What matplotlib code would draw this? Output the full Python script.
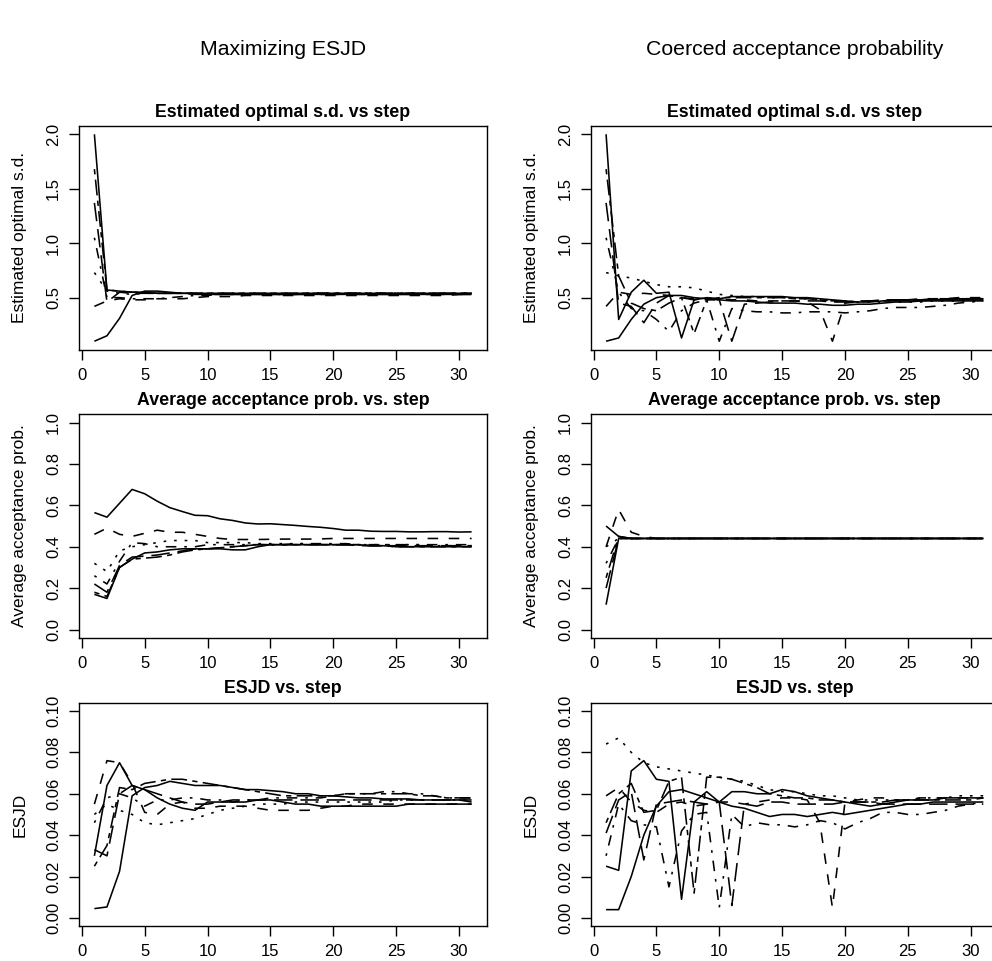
import matplotlib
matplotlib.use("Agg")
import matplotlib.pyplot as plt

plt.rcParams['font.family'] = ['Liberation Sans', 'DejaVu Sans']
plt.rcParams['lines.scale_dashes'] = False

steps = list(range(1, 32))

# --- Maximizing ESJD (left column) ---
sd_esjd = [
    [0.10, 0.15, 0.31, 0.52, 0.56, 0.56, 0.55, 0.54, 0.54, 0.53, 0.53, 0.53, 0.53, 0.53, 0.53, 0.53,
     0.53, 0.53, 0.53, 0.53, 0.53, 0.53, 0.53, 0.53, 0.53, 0.53, 0.53, 0.53, 0.53, 0.53, 0.53],
    [0.42, 0.47, 0.49, 0.48, 0.48, 0.49, 0.49, 0.49, 0.50, 0.51, 0.51, 0.51, 0.52, 0.52, 0.52, 0.52,
     0.52, 0.52, 0.52, 0.52, 0.52, 0.52, 0.52, 0.52, 0.52, 0.52, 0.52, 0.52, 0.52, 0.53, 0.53],
    [0.73, 0.56, 0.54, 0.53, 0.54, 0.54, 0.54, 0.54, 0.54, 0.54, 0.54, 0.54, 0.54, 0.54, 0.54, 0.54,
     0.54, 0.54, 0.54, 0.54, 0.54, 0.54, 0.54, 0.54, 0.54, 0.54, 0.54, 0.54, 0.54, 0.54, 0.54],
    [1.05, 0.50, 0.50, 0.49, 0.49, 0.49, 0.50, 0.51, 0.52, 0.52, 0.53, 0.53, 0.53, 0.53, 0.53, 0.53,
     0.53, 0.54, 0.54, 0.54, 0.54, 0.54, 0.54, 0.54, 0.54, 0.54, 0.54, 0.54, 0.54, 0.54, 0.54],
    [1.37, 0.46, 0.55, 0.54, 0.54, 0.54, 0.54, 0.54, 0.53, 0.53, 0.53, 0.53, 0.53, 0.53, 0.53, 0.53,
     0.53, 0.53, 0.53, 0.53, 0.53, 0.53, 0.53, 0.53, 0.53, 0.53, 0.53, 0.53, 0.53, 0.53, 0.53],
    [1.68, 0.57, 0.56, 0.55, 0.55, 0.54, 0.54, 0.54, 0.54, 0.54, 0.54, 0.54, 0.54, 0.54, 0.54, 0.54,
     0.54, 0.54, 0.54, 0.54, 0.54, 0.54, 0.54, 0.54, 0.54, 0.54, 0.54, 0.54, 0.54, 0.54, 0.54],
    [2.00, 0.57, 0.56, 0.55, 0.55, 0.54, 0.54, 0.54, 0.54, 0.54, 0.54, 0.54, 0.54, 0.54, 0.54, 0.54,
     0.54, 0.54, 0.54, 0.54, 0.54, 0.54, 0.54, 0.54, 0.54, 0.54, 0.54, 0.54, 0.54, 0.54, 0.54],
]
acc_esjd = [
    [0.565, 0.543, 0.61, 0.677, 0.656, 0.62, 0.589, 0.57, 0.552, 0.55, 0.535, 0.527, 0.515, 0.51, 0.511, 0.507,
     0.503, 0.498, 0.494, 0.488, 0.48, 0.48, 0.475, 0.474, 0.474, 0.472, 0.472, 0.473, 0.473, 0.471, 0.472],
    [0.46, 0.49, 0.46, 0.45, 0.465, 0.48, 0.47, 0.47, 0.46, 0.45, 0.44, 0.435, 0.435, 0.435, 0.436, 0.437,
     0.437, 0.437, 0.438, 0.44, 0.44, 0.44, 0.44, 0.44, 0.44, 0.44, 0.44, 0.44, 0.44, 0.44, 0.44],
    [0.32, 0.28, 0.38, 0.40, 0.41, 0.42, 0.43, 0.43, 0.43, 0.42, 0.42, 0.42, 0.42, 0.415, 0.415, 0.415,
     0.415, 0.415, 0.41, 0.41, 0.41, 0.41, 0.41, 0.41, 0.41, 0.41, 0.41, 0.405, 0.405, 0.405, 0.405],
    [0.26, 0.22, 0.33, 0.42, 0.415, 0.40, 0.40, 0.40, 0.40, 0.41, 0.41, 0.41, 0.41, 0.41, 0.41, 0.41,
     0.415, 0.415, 0.415, 0.415, 0.415, 0.41, 0.41, 0.41, 0.41, 0.41, 0.41, 0.41, 0.41, 0.41, 0.41],
    [0.22, 0.18, 0.31, 0.35, 0.355, 0.36, 0.37, 0.38, 0.39, 0.39, 0.395, 0.40, 0.405, 0.41, 0.41, 0.41,
     0.41, 0.41, 0.41, 0.41, 0.41, 0.405, 0.405, 0.405, 0.405, 0.405, 0.405, 0.405, 0.405, 0.405, 0.405],
    [0.18, 0.16, 0.30, 0.34, 0.345, 0.35, 0.36, 0.375, 0.385, 0.39, 0.395, 0.40, 0.405, 0.41, 0.41, 0.41,
     0.41, 0.41, 0.41, 0.41, 0.41, 0.41, 0.405, 0.405, 0.40, 0.40, 0.40, 0.40, 0.40, 0.40, 0.40],
    [0.17, 0.15, 0.30, 0.34, 0.37, 0.375, 0.385, 0.39, 0.39, 0.39, 0.39, 0.385, 0.385, 0.40, 0.41, 0.41,
     0.41, 0.41, 0.41, 0.41, 0.41, 0.41, 0.405, 0.405, 0.40, 0.40, 0.40, 0.40, 0.40, 0.40, 0.40],
]
esjd_esjd = [
    [0.0045, 0.0053, 0.0225, 0.059, 0.063, 0.064, 0.066, 0.065, 0.064, 0.064, 0.064, 0.063, 0.062, 0.062, 0.0615, 0.061,
     0.060, 0.060, 0.059, 0.059, 0.0585, 0.058, 0.058, 0.0575, 0.0575, 0.0575, 0.057, 0.057, 0.057, 0.057, 0.057],
    [0.055, 0.076, 0.075, 0.065, 0.051, 0.050, 0.055, 0.056, 0.053, 0.053, 0.054, 0.054, 0.054, 0.053, 0.052, 0.052,
     0.052, 0.052, 0.053, 0.054, 0.054, 0.055, 0.055, 0.055, 0.055, 0.055, 0.055, 0.055, 0.055, 0.055, 0.055],
    [0.050, 0.055, 0.052, 0.050, 0.046, 0.045, 0.046, 0.047, 0.048, 0.050, 0.052, 0.053, 0.054, 0.055, 0.055, 0.055,
     0.056, 0.056, 0.056, 0.056, 0.056, 0.056, 0.056, 0.056, 0.057, 0.057, 0.057, 0.057, 0.057, 0.057, 0.057],
    [0.046, 0.058, 0.060, 0.058, 0.054, 0.057, 0.057, 0.058, 0.058, 0.057, 0.057, 0.056, 0.057, 0.057, 0.058, 0.058,
     0.058, 0.058, 0.058, 0.059, 0.060, 0.060, 0.060, 0.061, 0.061, 0.060, 0.060, 0.059, 0.058, 0.058, 0.058],
    [0.033, 0.030, 0.060, 0.064, 0.062, 0.060, 0.058, 0.056, 0.055, 0.055, 0.056, 0.057, 0.057, 0.057, 0.057, 0.057,
     0.057, 0.057, 0.057, 0.057, 0.057, 0.057, 0.057, 0.057, 0.057, 0.057, 0.057, 0.057, 0.057, 0.057, 0.056],
    [0.025, 0.035, 0.063, 0.062, 0.065, 0.066, 0.067, 0.067, 0.066, 0.065, 0.064, 0.063, 0.062, 0.061, 0.060, 0.059,
     0.059, 0.059, 0.059, 0.059, 0.060, 0.060, 0.060, 0.060, 0.060, 0.060, 0.059, 0.059, 0.058, 0.058, 0.058],
    [0.030, 0.064, 0.075, 0.064, 0.062, 0.058, 0.055, 0.053, 0.052, 0.056, 0.056, 0.056, 0.056, 0.057, 0.057, 0.056,
     0.055, 0.055, 0.054, 0.054, 0.054, 0.054, 0.054, 0.054, 0.054, 0.055, 0.055, 0.055, 0.055, 0.055, 0.055],
]

# --- Coerced acceptance probability (right column) ---
sd_coerce = [
    [0.10, 0.13, 0.30, 0.44, 0.50, 0.52, 0.52, 0.50, 0.49, 0.48, 0.47, 0.47, 0.46, 0.45, 0.45, 0.45,
     0.44, 0.44, 0.43, 0.43, 0.44, 0.44, 0.45, 0.46, 0.46, 0.47, 0.47, 0.47, 0.47, 0.47, 0.47],
    [0.42, 0.55, 0.53, 0.54, 0.53, 0.52, 0.50, 0.49, 0.48, 0.48, 0.48, 0.48, 0.47, 0.47, 0.47, 0.47,
     0.46, 0.39, 0.10, 0.45, 0.46, 0.47, 0.47, 0.48, 0.48, 0.49, 0.49, 0.49, 0.50, 0.50, 0.50],
    [0.73, 0.70, 0.68, 0.65, 0.62, 0.60, 0.60, 0.59, 0.56, 0.53, 0.52, 0.51, 0.51, 0.50, 0.50, 0.49,
     0.49, 0.48, 0.47, 0.46, 0.46, 0.46, 0.46, 0.46, 0.46, 0.46, 0.47, 0.47, 0.47, 0.47, 0.47],
    [1.05, 0.55, 0.40, 0.38, 0.30, 0.19, 0.38, 0.45, 0.48, 0.10, 0.40, 0.38, 0.37, 0.37, 0.36, 0.36,
     0.37, 0.37, 0.37, 0.36, 0.37, 0.38, 0.40, 0.41, 0.41, 0.41, 0.42, 0.43, 0.45, 0.46, 0.47],
    [1.37, 0.45, 0.42, 0.27, 0.45, 0.52, 0.50, 0.48, 0.50, 0.48, 0.10, 0.44, 0.45, 0.46, 0.47, 0.47,
     0.47, 0.47, 0.46, 0.46, 0.47, 0.47, 0.48, 0.48, 0.48, 0.48, 0.49, 0.49, 0.49, 0.49, 0.49],
    [1.68, 0.70, 0.45, 0.40, 0.38, 0.45, 0.50, 0.17, 0.48, 0.50, 0.50, 0.50, 0.50, 0.50, 0.50, 0.49,
     0.49, 0.48, 0.47, 0.47, 0.46, 0.47, 0.47, 0.48, 0.48, 0.48, 0.48, 0.48, 0.49, 0.49, 0.49],
    [2.00, 0.30, 0.55, 0.66, 0.54, 0.55, 0.13, 0.48, 0.50, 0.49, 0.51, 0.51, 0.51, 0.51, 0.51, 0.50,
     0.50, 0.49, 0.48, 0.47, 0.46, 0.46, 0.47, 0.47, 0.47, 0.47, 0.48, 0.48, 0.48, 0.48, 0.48],
]
acc_coerce = [
    [0.12, 0.44, 0.44, 0.44, 0.44, 0.44, 0.44, 0.44, 0.44, 0.44, 0.44, 0.44, 0.44, 0.44, 0.44, 0.44,
     0.44, 0.44, 0.44, 0.44, 0.44, 0.44, 0.44, 0.44, 0.44, 0.44, 0.44, 0.44, 0.44, 0.44, 0.44],
    [0.40, 0.58, 0.47, 0.45, 0.44, 0.44, 0.44, 0.44, 0.44, 0.44, 0.44, 0.44, 0.44, 0.44, 0.44, 0.44,
     0.44, 0.44, 0.44, 0.44, 0.44, 0.44, 0.44, 0.44, 0.44, 0.44, 0.44, 0.44, 0.44, 0.44, 0.44],
    [0.40, 0.44, 0.44, 0.44, 0.44, 0.44, 0.44, 0.44, 0.44, 0.44, 0.44, 0.44, 0.44, 0.44, 0.44, 0.44,
     0.44, 0.44, 0.44, 0.44, 0.44, 0.44, 0.44, 0.44, 0.44, 0.44, 0.44, 0.44, 0.44, 0.44, 0.44],
    [0.32, 0.44, 0.44, 0.44, 0.44, 0.44, 0.44, 0.44, 0.44, 0.44, 0.44, 0.44, 0.44, 0.44, 0.44, 0.44,
     0.44, 0.44, 0.44, 0.44, 0.44, 0.44, 0.44, 0.44, 0.44, 0.44, 0.44, 0.44, 0.44, 0.44, 0.44],
    [0.20, 0.44, 0.44, 0.44, 0.44, 0.44, 0.44, 0.44, 0.44, 0.44, 0.44, 0.44, 0.44, 0.44, 0.44, 0.44,
     0.44, 0.44, 0.44, 0.44, 0.44, 0.44, 0.44, 0.44, 0.44, 0.44, 0.44, 0.44, 0.44, 0.44, 0.44],
    [0.25, 0.45, 0.44, 0.44, 0.44, 0.44, 0.44, 0.44, 0.44, 0.44, 0.44, 0.44, 0.44, 0.44, 0.44, 0.44,
     0.44, 0.44, 0.44, 0.44, 0.44, 0.44, 0.44, 0.44, 0.44, 0.44, 0.44, 0.44, 0.44, 0.44, 0.44],
    [0.50, 0.45, 0.44, 0.44, 0.44, 0.44, 0.44, 0.44, 0.44, 0.44, 0.44, 0.44, 0.44, 0.44, 0.44, 0.44,
     0.44, 0.44, 0.44, 0.44, 0.44, 0.44, 0.44, 0.44, 0.44, 0.44, 0.44, 0.44, 0.44, 0.44, 0.44],
]
esjd_coerce = [
    [0.004, 0.004, 0.020, 0.040, 0.054, 0.061, 0.062, 0.060, 0.058, 0.056, 0.054, 0.053, 0.051, 0.049, 0.050, 0.050,
     0.049, 0.050, 0.051, 0.050, 0.051, 0.052, 0.053, 0.054, 0.055, 0.055, 0.056, 0.056, 0.056, 0.056, 0.056],
    [0.059, 0.063, 0.056, 0.052, 0.051, 0.055, 0.056, 0.054, 0.055, 0.056, 0.056, 0.055, 0.056, 0.057, 0.058, 0.058,
     0.057, 0.046, 0.005, 0.056, 0.057, 0.058, 0.058, 0.057, 0.057, 0.058, 0.058, 0.058, 0.058, 0.058, 0.058],
    [0.084, 0.087, 0.080, 0.075, 0.073, 0.072, 0.071, 0.070, 0.069, 0.068, 0.067, 0.066, 0.064, 0.062, 0.061, 0.061,
     0.060, 0.059, 0.059, 0.058, 0.057, 0.057, 0.057, 0.057, 0.057, 0.058, 0.058, 0.058, 0.059, 0.059, 0.059],
    [0.030, 0.055, 0.047, 0.045, 0.044, 0.015, 0.042, 0.050, 0.051, 0.005, 0.050, 0.044, 0.046, 0.045, 0.045, 0.044,
     0.045, 0.047, 0.046, 0.043, 0.046, 0.048, 0.051, 0.051, 0.050, 0.050, 0.051, 0.052, 0.054, 0.055, 0.056],
    [0.041, 0.057, 0.061, 0.028, 0.055, 0.056, 0.057, 0.056, 0.055, 0.056, 0.006, 0.055, 0.054, 0.056, 0.056, 0.055,
     0.055, 0.055, 0.055, 0.056, 0.056, 0.056, 0.055, 0.055, 0.055, 0.055, 0.055, 0.055, 0.055, 0.055, 0.055],
    [0.046, 0.060, 0.065, 0.051, 0.052, 0.066, 0.068, 0.012, 0.068, 0.068, 0.067, 0.065, 0.063, 0.060, 0.059, 0.058,
     0.058, 0.057, 0.057, 0.056, 0.056, 0.056, 0.056, 0.057, 0.057, 0.057, 0.057, 0.057, 0.057, 0.057, 0.058],
    [0.025, 0.023, 0.071, 0.076, 0.067, 0.066, 0.009, 0.056, 0.061, 0.056, 0.061, 0.061, 0.060, 0.060, 0.062, 0.061,
     0.059, 0.058, 0.057, 0.056, 0.055, 0.054, 0.055, 0.056, 0.057, 0.057, 0.057, 0.058, 0.058, 0.058, 0.058],
]

# R lty 1:6 recycled, dash unit ~1.9pt
u = 1.9
styles = [
    (0, ()),
    (0, (4 * u, 4 * u)),
    (0, (1 * u, 3 * u)),
    (0, (1 * u, 3 * u, 4 * u, 3 * u)),
    (0, (7 * u, 3 * u)),
    (0, (2 * u, 2 * u, 6 * u, 2 * u)),
    (0, ()),
]

W, H = 992, 961
fig = plt.figure(figsize=(W / 100, H / 100), dpi=100)

col_left = [79.3, 591.0]
row_top = [126.0, 414.3, 702.7]
aw, ah = 407.4, 223.5

panels = [
    (sd_esjd, sd_coerce, "Estimated optimal s.d. vs step", "Estimated optimal s.d.", None,
     [0.5, 1.0, 1.5, 2.0], ["0.5", "1.0", "1.5", "2.0"]),
    (acc_esjd, acc_coerce, "Average acceptance prob. vs. step", "Average acceptance prob.", (0.0, 1.0),
     [0.0, 0.2, 0.4, 0.6, 0.8, 1.0], ["0.0", "0.2", "0.4", "0.6", "0.8", "1.0"]),
    (esjd_esjd, esjd_coerce, "ESJD vs. step", "ESJD", (0.0, 0.1),
     [0.0, 0.02, 0.04, 0.06, 0.08, 0.10], ["0.00", "0.02", "0.04", "0.06", "0.08", "0.10"]),
]

for r, (left_data, right_data, title, ylab, yrange, yt, ytl) in enumerate(panels):
    for c, data in enumerate([left_data, right_data]):
        ax = fig.add_axes([col_left[c] / W, 1 - (row_top[r] + ah) / H, aw / W, ah / H])
        for i, series in enumerate(data):
            ax.plot(steps, series, color='black', linewidth=1.15, linestyle=styles[i])
        if yrange is None:
            lo = min(min(s) for s in data)
            hi = max(max(s) for s in data)
        else:
            lo, hi = yrange
        pad = (hi - lo) * 0.04
        ax.set_ylim(lo - pad, hi + pad)
        ax.set_xlim(1 - 30 * 0.04, 31 + 30 * 0.04)
        ax.set_xticks([0, 5, 10, 15, 20, 25, 30])
        ax.set_yticks(yt)
        ax.set_yticklabels(ytl, rotation=90, va='center')
        ax.tick_params(direction='out', length=7, width=1, labelsize=12, pad=6, color='black')
        for sp in ax.spines.values():
            sp.set_linewidth(1)
        ax.set_title(title, fontsize=12.8, fontweight='bold', pad=6.7)
        ax.set_ylabel(ylab, fontsize=12.5)
        ax.yaxis.set_label_coords(-52 / aw, 0.5)

fig.text((col_left[0] + aw / 2) / W, 1 - 55 / H, "Maximizing ESJD",
         ha='center', va='baseline', fontsize=15.3)
fig.text((col_left[1] + aw / 2) / W, 1 - 55 / H, "Coerced acceptance probability",
         ha='center', va='baseline', fontsize=15.3)

fig.savefig("out.png", dpi=100)
